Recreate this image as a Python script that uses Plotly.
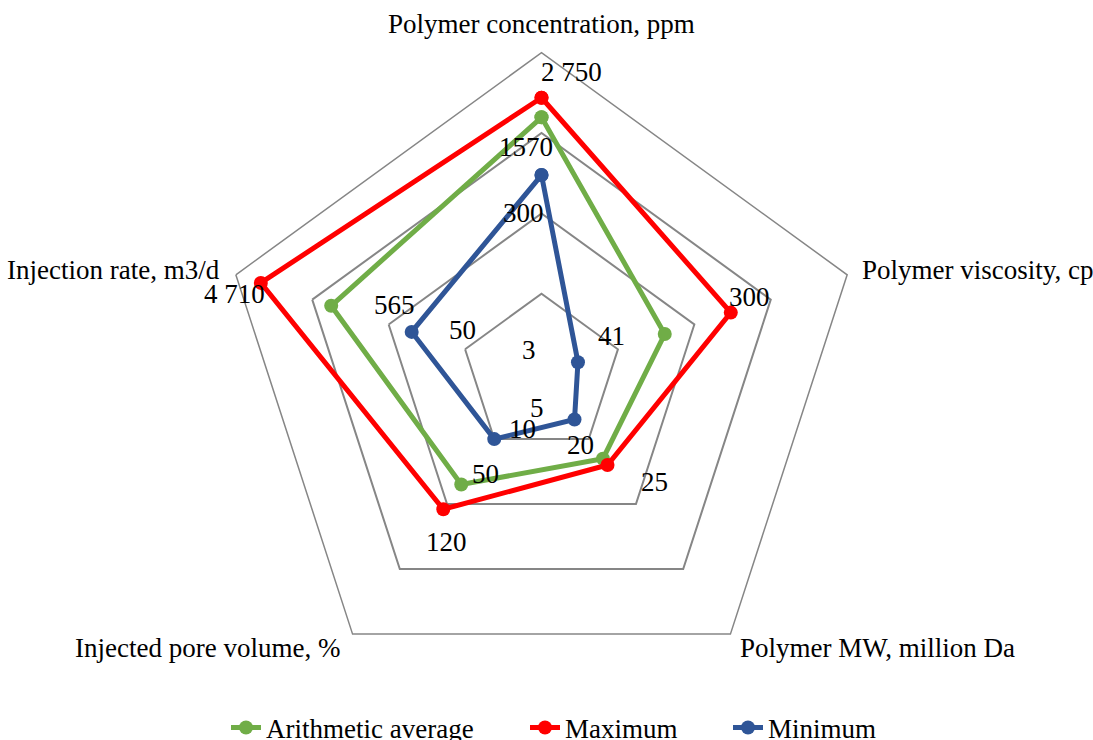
import plotly.graph_objects as go

# Categories around the radar (clockwise from the top)
categories = [
    "Polymer concentration, ppm",
    "Polymer viscosity, cp",
    "Polymer MW, million Da",
    "Injected pore volume, %",
    "Injection rate, m3/d",
]

# Series values (plotted on a log10 radial axis)
average_values = [1570, 41, 20, 50, 565]
maximum_values = [2750, 300, 25, 120, 4710]
minimum_values = [300, 3, 5, 10, 50]

GREEN = "#70AD47"
RED = "#FF0000"
BLUE = "#2F5597"
GRID = "#868686"
FONT = "'Times New Roman', 'Liberation Serif', serif"
FS = 27

W, H = 1093, 740


def closed(seq):
    return list(seq) + [seq[0]]


# one legend per series so each entry can sit where it belongs
series = [
    ("Arithmetic average", average_values, GREEN, "legend", 268),
    ("Maximum", maximum_values, RED, "legend2", 567),
    ("Minimum", minimum_values, BLUE, "legend3", 770),
]

fig = go.Figure()
for name, vals, color, leg, _ in series:
    fig.add_trace(go.Scatterpolar(
        r=closed(vals),
        theta=closed(categories),
        mode="lines+markers",
        name=name,
        legend=leg,
        line=dict(color=color, width=5),
        marker=dict(color=color, size=14),
        cliponaxis=False,
    ))


def txt(text, x_px, y_px, anchor="center"):
    return dict(text=text, x=x_px / W, y=1 - y_px / H,
                xref="paper", yref="paper",
                xanchor=anchor, yanchor="middle", showarrow=False,
                font=dict(family=FONT, size=FS, color="black"))


# Category labels around the outer polygon
annotations = [
    txt(categories[0], 541, 24),
    txt(categories[1], 860, 270, "left"),
    txt(categories[2], 738, 648, "left"),
    txt(categories[3], 342, 648, "right"),
    txt(categories[4], 222, 270, "right"),
]


# Value labels: text formatted from the series values, placed beside the points
def fmt_grouped(v):
    return f"{v:,}".replace(",", " ")


label_specs = [
    # (text, x_px, y_px)
    (fmt_grouped(maximum_values[0]), 571, 72),
    (str(average_values[0]), 526, 147),
    (str(minimum_values[0]), 523, 213),
    (fmt_grouped(maximum_values[1]), 749, 297),
    (str(average_values[1]), 611, 336),
    (str(minimum_values[1]), 529, 350),
    (str(maximum_values[2]), 654, 482),
    (str(average_values[2]), 580, 445),
    (str(minimum_values[2]), 537, 408),
    (str(maximum_values[3]), 446, 542),
    (str(average_values[3]), 485, 474),
    (str(minimum_values[3]), 522, 429),
    (fmt_grouped(maximum_values[4]), 234, 294),
    (str(average_values[4]), 394, 305),
    (str(minimum_values[4]), 462, 330),
]
annotations += [txt(t, x, y) for t, x, y in label_specs]

legend_common = dict(
    orientation="h", xanchor="left", yanchor="middle",
    xref="container", yref="container",
    y=1 - 728 / H,
    font=dict(family=FONT, size=FS, color="black"),
    bgcolor="rgba(0,0,0,0)",
)
legends = {}
for _, _, _, leg, text_x in series:
    legends[leg] = dict(legend_common, x=(text_x - 42) / W)

cx, cy, R = 541.5, 374.1, 321.4
fig.update_layout(
    width=W, height=H,
    margin=dict(l=0, r=0, t=0, b=0, autoexpand=False),
    paper_bgcolor="white",
    plot_bgcolor="white",
    font=dict(family=FONT, size=FS, color="black"),
    polar=dict(
        domain=dict(x=[(cx - R) / W, (cx + R) / W],
                    y=[1 - (cy + R) / H, 1 - (cy - R) / H]),
        bgcolor="white",
        gridshape="linear",
        radialaxis=dict(
            type="log", range=[0, 4], dtick=1,
            showline=False, showticklabels=False, ticks="",
            gridcolor=GRID, gridwidth=1.5,
        ),
        angularaxis=dict(
            direction="clockwise", rotation=90,
            showgrid=False, ticks="", showticklabels=False,
            showline=True, linecolor=GRID, linewidth=1.5,
        ),
    ),
    annotations=annotations,
    showlegend=True,
    **legends,
)

fig.write_html("out.html")
